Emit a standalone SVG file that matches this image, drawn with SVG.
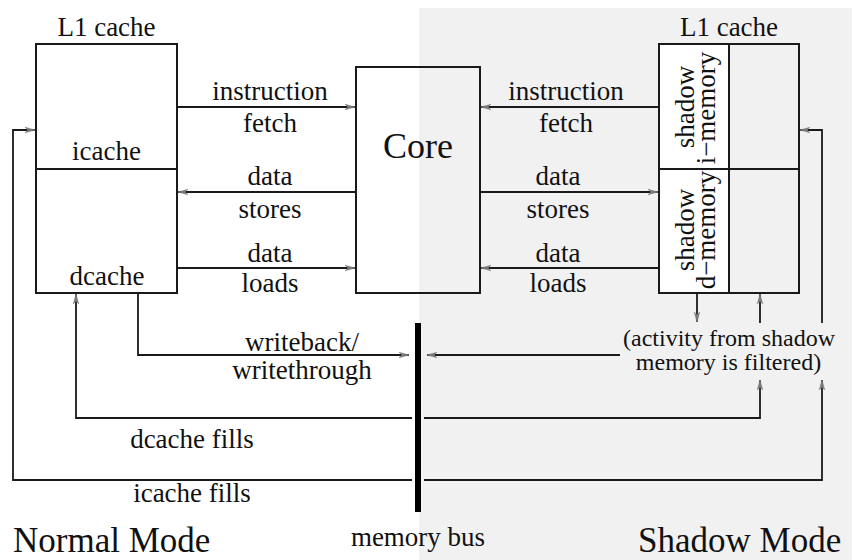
<svg xmlns="http://www.w3.org/2000/svg" width="854" height="560" viewBox="0 0 854 560">
  <style>
    text { font-family: "Liberation Serif", "Times New Roman", "DejaVu Serif", serif; fill: #111; }
    .lbl { font-size: 27px; text-anchor: middle; }
    .note { font-size: 24px; text-anchor: middle; }
    .mode { font-size: 35px; }
    .box { fill: none; stroke: #1a1a1a; stroke-width: 2; }
    .wire { fill: none; stroke: #1a1a1a; stroke-width: 1.8; }
    .arr { marker-end: url(#tip); }
  </style>
  <defs>
    <marker id="tip" markerUnits="userSpaceOnUse" markerWidth="12" markerHeight="8" refX="10" refY="4" orient="auto">
      <path d="M0,1.2 L10,4 L0,6.8 L3,4 Z" fill="#777" stroke="#888" stroke-width="0.6"/>
    </marker>
  </defs>

  <!-- shadow-mode half of the figure -->
  <rect x="419" y="8" width="433" height="552" fill="#f1f1f1"/>

  <!-- normal-mode L1 cache -->
  <g id="l1-normal">
    <rect class="box" x="36" y="44" width="141" height="249" fill="#fff"/>
    <line class="box" x1="36" y1="169" x2="177" y2="169"/>
    <text class="lbl" x="106.5" y="36">L1 cache</text>
    <text class="lbl" x="106.5" y="160">icache</text>
    <text class="lbl" x="107" y="285">dcache</text>
  </g>

  <!-- core -->
  <g id="core">
    <rect class="box" x="356" y="67" width="124" height="226"/>
    <text x="418" y="158" font-size="36" text-anchor="middle">Core</text>
  </g>

  <!-- shadow-mode L1 cache -->
  <g id="l1-shadow">
    <rect x="659" y="44" width="70" height="249" fill="#fff"/>
    <rect class="box" x="659" y="44" width="140" height="249"/>
    <line class="box" x1="729" y1="44" x2="729" y2="293"/>
    <line class="box" x1="659" y1="169" x2="799" y2="169"/>
    <text class="lbl" x="729" y="36">L1 cache</text>
    <text class="lbl" transform="translate(694,107) rotate(-90)">shadow</text>
    <text class="lbl" transform="translate(715,108) rotate(-90)">i−memory</text>
    <text class="lbl" transform="translate(694,230) rotate(-90)">shadow</text>
    <text class="lbl" transform="translate(715,230) rotate(-90)">d−memory</text>
  </g>

  <!-- memory bus -->
  <g id="bus">
    <rect x="415" y="323" width="6" height="189" fill="#000"/>
    <text x="418" y="546" font-size="27" text-anchor="middle">memory bus</text>
  </g>

  <!-- connectors -->
  <g id="connectors">
    <!-- normal side: cache <-> core -->
    <line class="wire arr" x1="177" y1="107" x2="355" y2="107"/>
    <line class="wire arr" x1="356" y1="192" x2="178" y2="192"/>
    <line class="wire arr" x1="177" y1="268" x2="355" y2="268"/>
    <!-- shadow side: cache <-> core -->
    <line class="wire arr" x1="659" y1="107" x2="481" y2="107"/>
    <line class="wire arr" x1="480" y1="192" x2="658" y2="192"/>
    <line class="wire arr" x1="659" y1="268" x2="481" y2="268"/>
    <!-- normal side: cache <-> bus -->
    <polyline class="wire arr" points="138,293 138,355 409,355"/>
    <polyline class="wire arr" points="412,418 76,418 76,294"/>
    <polyline class="wire arr" points="412,480 13,480 13,130 35,130"/>
    <!-- shadow side: filtered traffic -->
    <line class="wire arr" x1="697" y1="293" x2="697" y2="322"/>
    <line class="wire arr" x1="760" y1="323" x2="760" y2="294"/>
    <polyline class="wire arr" points="822,323 822,130 800,130"/>
    <line class="wire arr" x1="620" y1="355" x2="427" y2="355"/>
    <polyline class="wire arr" points="424,418 760,418 760,380"/>
    <polyline class="wire arr" points="424,480 822,480 822,380"/>
  </g>

  <!-- connector labels -->
  <g id="labels">
    <text class="lbl" x="270" y="100">instruction</text>
    <text class="lbl" x="270" y="132">fetch</text>
    <text class="lbl" x="270" y="185">data</text>
    <text class="lbl" x="270" y="218">stores</text>
    <text class="lbl" x="270" y="262">data</text>
    <text class="lbl" x="270" y="292">loads</text>
    <text class="lbl" x="566" y="100">instruction</text>
    <text class="lbl" x="566" y="132">fetch</text>
    <text class="lbl" x="558" y="185">data</text>
    <text class="lbl" x="558" y="218">stores</text>
    <text class="lbl" x="558" y="262">data</text>
    <text class="lbl" x="558" y="292">loads</text>
    <text class="lbl" x="302" y="351">writeback/</text>
    <text class="lbl" x="302" y="379">writethrough</text>
    <text class="lbl" x="192" y="448">dcache fills</text>
    <text class="lbl" x="192" y="502">icache fills</text>
    <text class="note" x="729" y="346">(activity from shadow</text>
    <text class="note" x="728.5" y="370">memory is filtered)</text>
  </g>

  <!-- mode captions -->
  <text class="mode" x="13" y="552">Normal Mode</text>
  <text class="mode" x="638" y="552">Shadow Mode</text>
</svg>
